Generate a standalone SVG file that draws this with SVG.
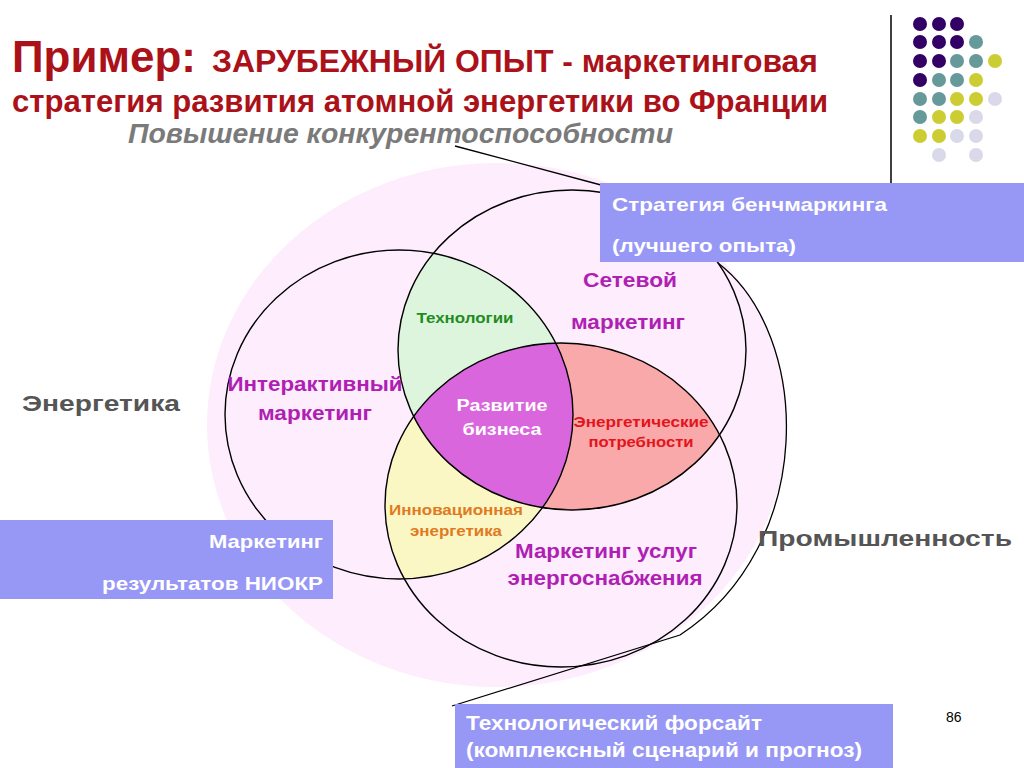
<svg xmlns="http://www.w3.org/2000/svg" width="1024" height="768" viewBox="0 0 1024 768">
<style>
text{font-family:"Liberation Sans",Arial,sans-serif;font-weight:bold}
.title{font-family:"Liberation Sans Narrow","Liberation Sans",Arial,sans-serif;fill:#ab1119}
.sub{fill:#7a7a7a;font-style:italic}
.side{fill:#555555;font-size:22px}
.box{fill:#9797f6}
.boxt{fill:#ffffff}
.mag{fill:#b01fb3;font-size:20px;text-anchor:middle}
.sm{font-size:14px;text-anchor:middle}
.ring{fill:none;stroke:#000;stroke-width:1.4}
.conn{fill:none;stroke:#000;stroke-width:1.3}
.d1{fill:#330066}.d2{fill:#669999}.d3{fill:#cccc33}.d4{fill:#d9d9ea}
</style>
<defs>
<clipPath id="clipB"><ellipse cx="572" cy="350" rx="174" ry="160"/></clipPath>
<clipPath id="clipC"><ellipse cx="561" cy="505" rx="176" ry="162"/></clipPath>
</defs>
<rect width="1024" height="768" fill="#ffffff"/>
<ellipse id="background" cx="497" cy="425" rx="290" ry="262" fill="#fdedfd"/>
<g id="regions">
<g clip-path="url(#clipC)"><ellipse cx="399" cy="414.5" rx="174" ry="164.5" fill="#fbf7c4"/></g>
<g clip-path="url(#clipB)"><ellipse cx="399" cy="414.5" rx="174" ry="164.5" fill="#ddf5dd"/></g>
<g clip-path="url(#clipC)"><ellipse cx="572" cy="350" rx="174" ry="160" fill="#f9a9a9"/></g>
<g clip-path="url(#clipC)"><g clip-path="url(#clipB)"><ellipse cx="399" cy="414.5" rx="174" ry="164.5" fill="#d966dd"/></g></g>
</g>
<g id="circle-interactive"><ellipse class="ring" cx="399" cy="414.5" rx="174" ry="164.5"/></g>
<g id="circle-network"><ellipse class="ring" cx="572" cy="350" rx="174" ry="160"/></g>
<g id="circle-supply"><ellipse class="ring" cx="561" cy="505" rx="176" ry="162"/></g>
<g id="connectors">
<path class="conn" d="M455 146 L601 185"/>
<path class="conn" d="M718 263 C812 335 818 545 680 635 L452 706"/>
<line x1="891" y1="15" x2="891" y2="183" stroke="#000" stroke-width="1.5"/>
</g>
<g id="dots">
<circle class="d1" cx="920" cy="24" r="7"/><circle class="d1" cx="939" cy="24" r="7"/><circle class="d1" cx="957" cy="24" r="7"/>
<circle class="d1" cx="920" cy="42" r="7"/><circle class="d1" cx="939" cy="42" r="7"/><circle class="d1" cx="957" cy="42" r="7"/><circle class="d2" cx="976" cy="42" r="7"/>
<circle class="d1" cx="920" cy="61" r="7"/><circle class="d1" cx="939" cy="61" r="7"/><circle class="d2" cx="957" cy="61" r="7"/><circle class="d2" cx="976" cy="61" r="7"/><circle class="d3" cx="995" cy="61" r="7"/>
<circle class="d1" cx="920" cy="80" r="7"/><circle class="d2" cx="939" cy="80" r="7"/><circle class="d2" cx="957" cy="80" r="7"/><circle class="d3" cx="976" cy="80" r="7"/>
<circle class="d2" cx="920" cy="99" r="7"/><circle class="d2" cx="939" cy="99" r="7"/><circle class="d3" cx="957" cy="99" r="7"/><circle class="d3" cx="976" cy="99" r="7"/><circle class="d4" cx="995" cy="99" r="7"/>
<circle class="d2" cx="920" cy="117" r="7"/><circle class="d3" cx="939" cy="117" r="7"/><circle class="d3" cx="957" cy="117" r="7"/><circle class="d4" cx="976" cy="117" r="7"/>
<circle class="d3" cx="920" cy="136" r="7"/><circle class="d3" cx="939" cy="136" r="7"/><circle class="d4" cx="957" cy="136" r="7"/><circle class="d4" cx="976" cy="136" r="7"/>
<circle class="d4" cx="939" cy="155" r="7"/><circle class="d4" cx="976" cy="155" r="7"/>
</g>
<g id="title">
<text class="title" x="12" y="72" font-size="44" textLength="184" lengthAdjust="spacingAndGlyphs">Пример:</text>
<text class="title" x="212" y="72" font-size="31" textLength="606" lengthAdjust="spacingAndGlyphs">ЗАРУБЕЖНЫЙ ОПЫТ - маркетинговая</text>
<text class="title" x="12" y="112" font-size="32" textLength="816" lengthAdjust="spacingAndGlyphs">стратегия развития атомной энергетики во Франции</text>
</g>
<g id="node-competitiveness"><text class="sub" x="128" y="143" font-size="27" textLength="545" lengthAdjust="spacingAndGlyphs">Повышение конкурентоспособности</text></g>
<g id="node-benchmarking">
<rect class="box" x="600" y="183" width="424" height="79"/>
<text class="boxt" x="612" y="211" font-size="19" textLength="275" lengthAdjust="spacingAndGlyphs">Стратегия бенчмаркинга</text>
<text class="boxt" x="612" y="252" font-size="19" textLength="184" lengthAdjust="spacingAndGlyphs">(лучшего опыта)</text>
</g>
<g id="node-niokr">
<rect class="box" x="0" y="520" width="333" height="79"/>
<text class="boxt" x="323" y="548" font-size="19" text-anchor="end" textLength="114" lengthAdjust="spacingAndGlyphs">Маркетинг</text>
<text class="boxt" x="323" y="590" font-size="19" text-anchor="end" textLength="221" lengthAdjust="spacingAndGlyphs">результатов НИОКР</text>
</g>
<g id="node-foresight">
<rect class="box" x="455" y="704" width="438" height="64"/>
<text class="boxt" x="466" y="730" font-size="20" textLength="296" lengthAdjust="spacingAndGlyphs">Технологический форсайт</text>
<text class="boxt" x="466" y="757" font-size="20" textLength="396" lengthAdjust="spacingAndGlyphs">(комплексный сценарий и прогноз)</text>
</g>
<g id="node-energy"><text class="side" x="22" y="411" textLength="158" lengthAdjust="spacingAndGlyphs">Энергетика</text></g>
<g id="node-industry"><text class="side" x="758" y="546" textLength="254" lengthAdjust="spacingAndGlyphs">Промышленность</text></g>
<g id="node-network">
<text class="mag" x="630" y="287" textLength="94" lengthAdjust="spacingAndGlyphs">Сетевой</text>
<text class="mag" x="628" y="329" textLength="114" lengthAdjust="spacingAndGlyphs">маркетинг</text>
</g>
<g id="node-interactive">
<text class="mag" x="315" y="391" textLength="175" lengthAdjust="spacingAndGlyphs">Интерактивный</text>
<text class="mag" x="315" y="420" textLength="114" lengthAdjust="spacingAndGlyphs">маркетинг</text>
</g>
<g id="node-supply">
<text class="mag" x="606" y="558" textLength="182" lengthAdjust="spacingAndGlyphs">Маркетинг услуг</text>
<text class="mag" x="605" y="585" textLength="195" lengthAdjust="spacingAndGlyphs">энергоснабжения</text>
</g>
<g id="node-technologies"><text class="sm" x="465" y="323" fill="#1f8c1f" textLength="97" lengthAdjust="spacingAndGlyphs">Технологии</text></g>
<g id="node-business">
<text x="502" y="411" font-size="17" fill="#ffffff" text-anchor="middle" textLength="91" lengthAdjust="spacingAndGlyphs">Развитие</text>
<text x="502" y="435" font-size="17" fill="#ffffff" text-anchor="middle" textLength="79" lengthAdjust="spacingAndGlyphs">бизнеса</text>
</g>
<g id="node-needs">
<text class="sm" x="641" y="427" fill="#e3141c" textLength="135" lengthAdjust="spacingAndGlyphs">Энергетические</text>
<text class="sm" x="641" y="447" fill="#e3141c" textLength="105" lengthAdjust="spacingAndGlyphs">потребности</text>
</g>
<g id="node-innovation">
<text class="sm" x="456" y="515" fill="#e07a22" textLength="134" lengthAdjust="spacingAndGlyphs">Инновационная</text>
<text class="sm" x="456" y="536" fill="#e07a22" textLength="92" lengthAdjust="spacingAndGlyphs">энергетика</text>
</g>
<text x="946" y="722" font-size="14" style="font-weight:normal" fill="#000">86</text>
</svg>
